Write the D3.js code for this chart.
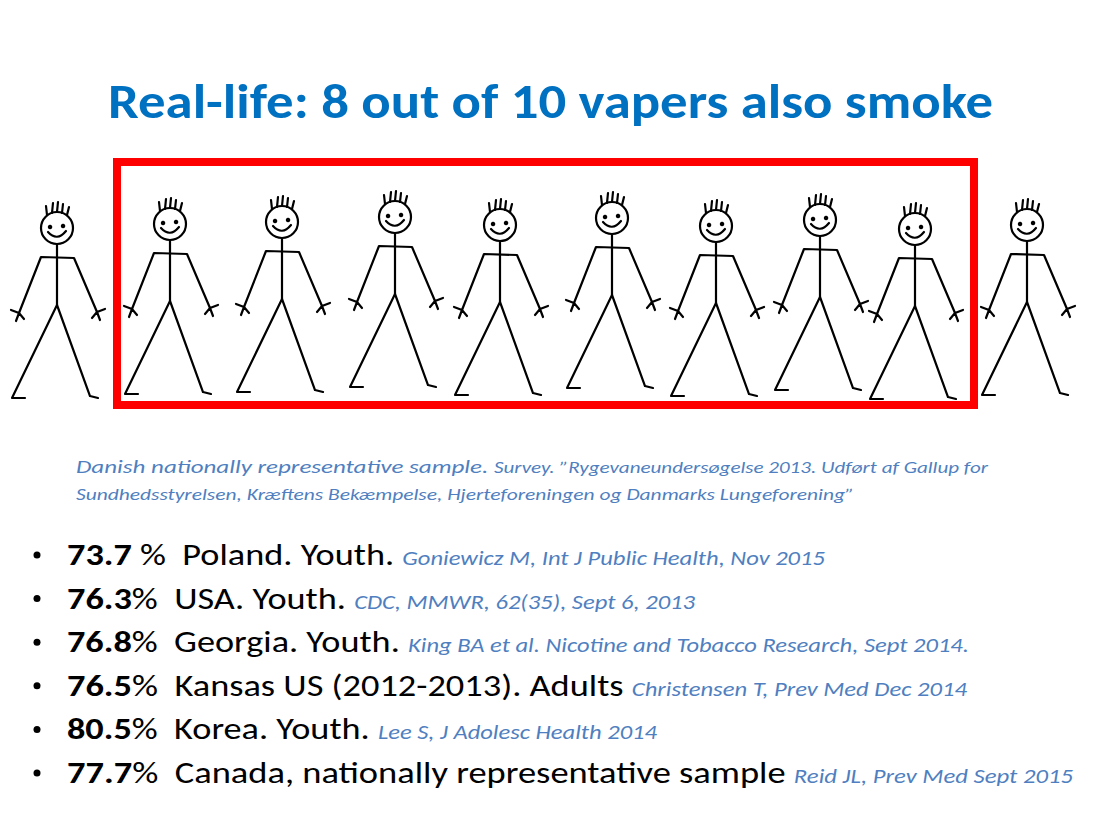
<!DOCTYPE html>
<html><head><meta charset="utf-8">
<script src="https://cdn.jsdelivr.net/npm/d3@7"></script>
<style>body{margin:0;background:#fff}</style>
</head><body><div id="slide"></div>
<script>
// Figures: horizontal centre and head height (px)
var figureX = [57, 170, 282, 395, 500, 612, 716, 820, 915, 1027];
var headY = [228, 224, 222, 217, 225, 218, 226, 220, 229, 225];

var pcts = ["73.7", "76.3", "76.8", "76.5", "80.5", "77.7"];
var pctSuffix = [" %  ", "%  ", "%  ", "%  ", "%  ", "%  "];
var places = ["Poland. Youth. ", "USA. Youth. ", "Georgia. Youth. ", "Kansas US (2012-2013). Adults ", "Korea. Youth. ", "Canada, nationally representative sample "];
var refs = ["Goniewicz M, Int J Public Health, Nov 2015", "CDC, MMWR, 62(35), Sept 6, 2013", "King BA et al. Nicotine and Tobacco Research, Sept 2014.", "Christensen T, Prev Med Dec 2014", "Lee S, J Adolesc Health 2014", "Reid JL, Prev Med Sept 2015"];
var rowWidths = [758, 628, 902, 900, 590, 1006];

var W = 1100, H = 825;
var font = "Carlito, Calibri, Lato, sans-serif";
var svg = d3.select("#slide").append("svg").attr("width", W).attr("height", H);

svg.append("text").attr("x", 108).attr("y", 118)
  .attr("font-family", font).attr("font-weight", "bold").attr("font-size", 48)
  .attr("textLength", 885).attr("lengthAdjust", "spacingAndGlyphs")
  .attr("fill", "#0070c0").text("Real-life: 8 out of 10 vapers also smoke");

var line = d3.line();
var figs = svg.selectAll("g.fig").data(figureX).enter().append("g")
  .attr("transform", (d, i) => `translate(${d},${headY[i]})`)
  .attr("fill", "none").attr("stroke", "#000").attr("stroke-width", 2.2)
  .attr("stroke-linecap", "round").attr("stroke-linejoin", "round");
figs.append("circle").attr("r", 16);
figs.append("path").attr("d", "M-7,-2 a1,1 0 1,0 0.1,0 M6,-3 a1,1 0 1,0 0.1,0").attr("stroke-width", 2.5);
figs.append("path").attr("d", "M-9,4 Q0,14 9,3");
figs.append("path").attr("d", "M-10,-13 L-11,-22 M-5,-15 L-4,-25 M0,-16 L1,-26 M5,-15 L6,-24 M10,-13 L12,-21");
figs.append("path").attr("d", line([[0, 16], [0, 77]]));
figs.append("path").attr("d", line([[-38, 85], [-16, 29], [17, 30], [40, 84]]));
figs.append("path").attr("d", "M-38,85 l-8,-3 M-38,85 l-3,8 M-38,85 l5,6");
figs.append("path").attr("d", "M40,84 l8,-3 M40,84 l3,8 M40,84 l-5,6");
figs.append("path").attr("d", line([[-32, 170], [-45, 170], [0, 77], [33, 168], [41, 170]]));

svg.append("rect").attr("x", 117).attr("y", 162).attr("width", 857).attr("height", 243)
  .attr("fill", "none").attr("stroke", "#ff0000").attr("stroke-width", 8);

var cap = svg.append("g").attr("font-family", font).attr("font-style", "italic").attr("fill", "#4f7fc0");
var c1 = cap.append("text").attr("x", 76).attr("y", 473).attr("textLength", 912).attr("lengthAdjust", "spacingAndGlyphs");
c1.append("tspan").attr("font-size", 19).text("Danish nationally representative sample. ");
c1.append("tspan").attr("font-size", 16).text("Survey. \u201dRygevaneundersøgelse 2013. Udført af Gallup for");
cap.append("text").attr("x", 76).attr("y", 500).attr("font-size", 16)
  .attr("textLength", 778).attr("lengthAdjust", "spacingAndGlyphs")
  .text("Sundhedsstyrelsen, Kræftens Bekæmpelse, Hjerteforeningen og Danmarks Lungeforening\u201d");

var yB = d3.scalePoint().domain(d3.range(pcts.length)).range([565, 783]);
var rows = svg.selectAll("g.row").data(pcts).enter().append("g")
  .attr("font-family", font);
rows.append("circle").attr("cx", 37).attr("cy", (d, i) => yB(i) - 10).attr("r", 3.5).attr("fill", "#000");
var t = rows.append("text").attr("x", 67).attr("y", (d, i) => yB(i)).attr("font-size", 31)
  .attr("textLength", (d, i) => rowWidths[i]).attr("lengthAdjust", "spacingAndGlyphs")
  .style("white-space", "pre");
t.append("tspan").attr("font-weight", "bold").text(d => d);
t.append("tspan").text((d, i) => pctSuffix[i] + places[i]);
t.append("tspan").attr("font-size", 21).attr("font-style", "italic").attr("fill", "#4f7fc0").text((d, i) => refs[i]);
</script></body></html>
